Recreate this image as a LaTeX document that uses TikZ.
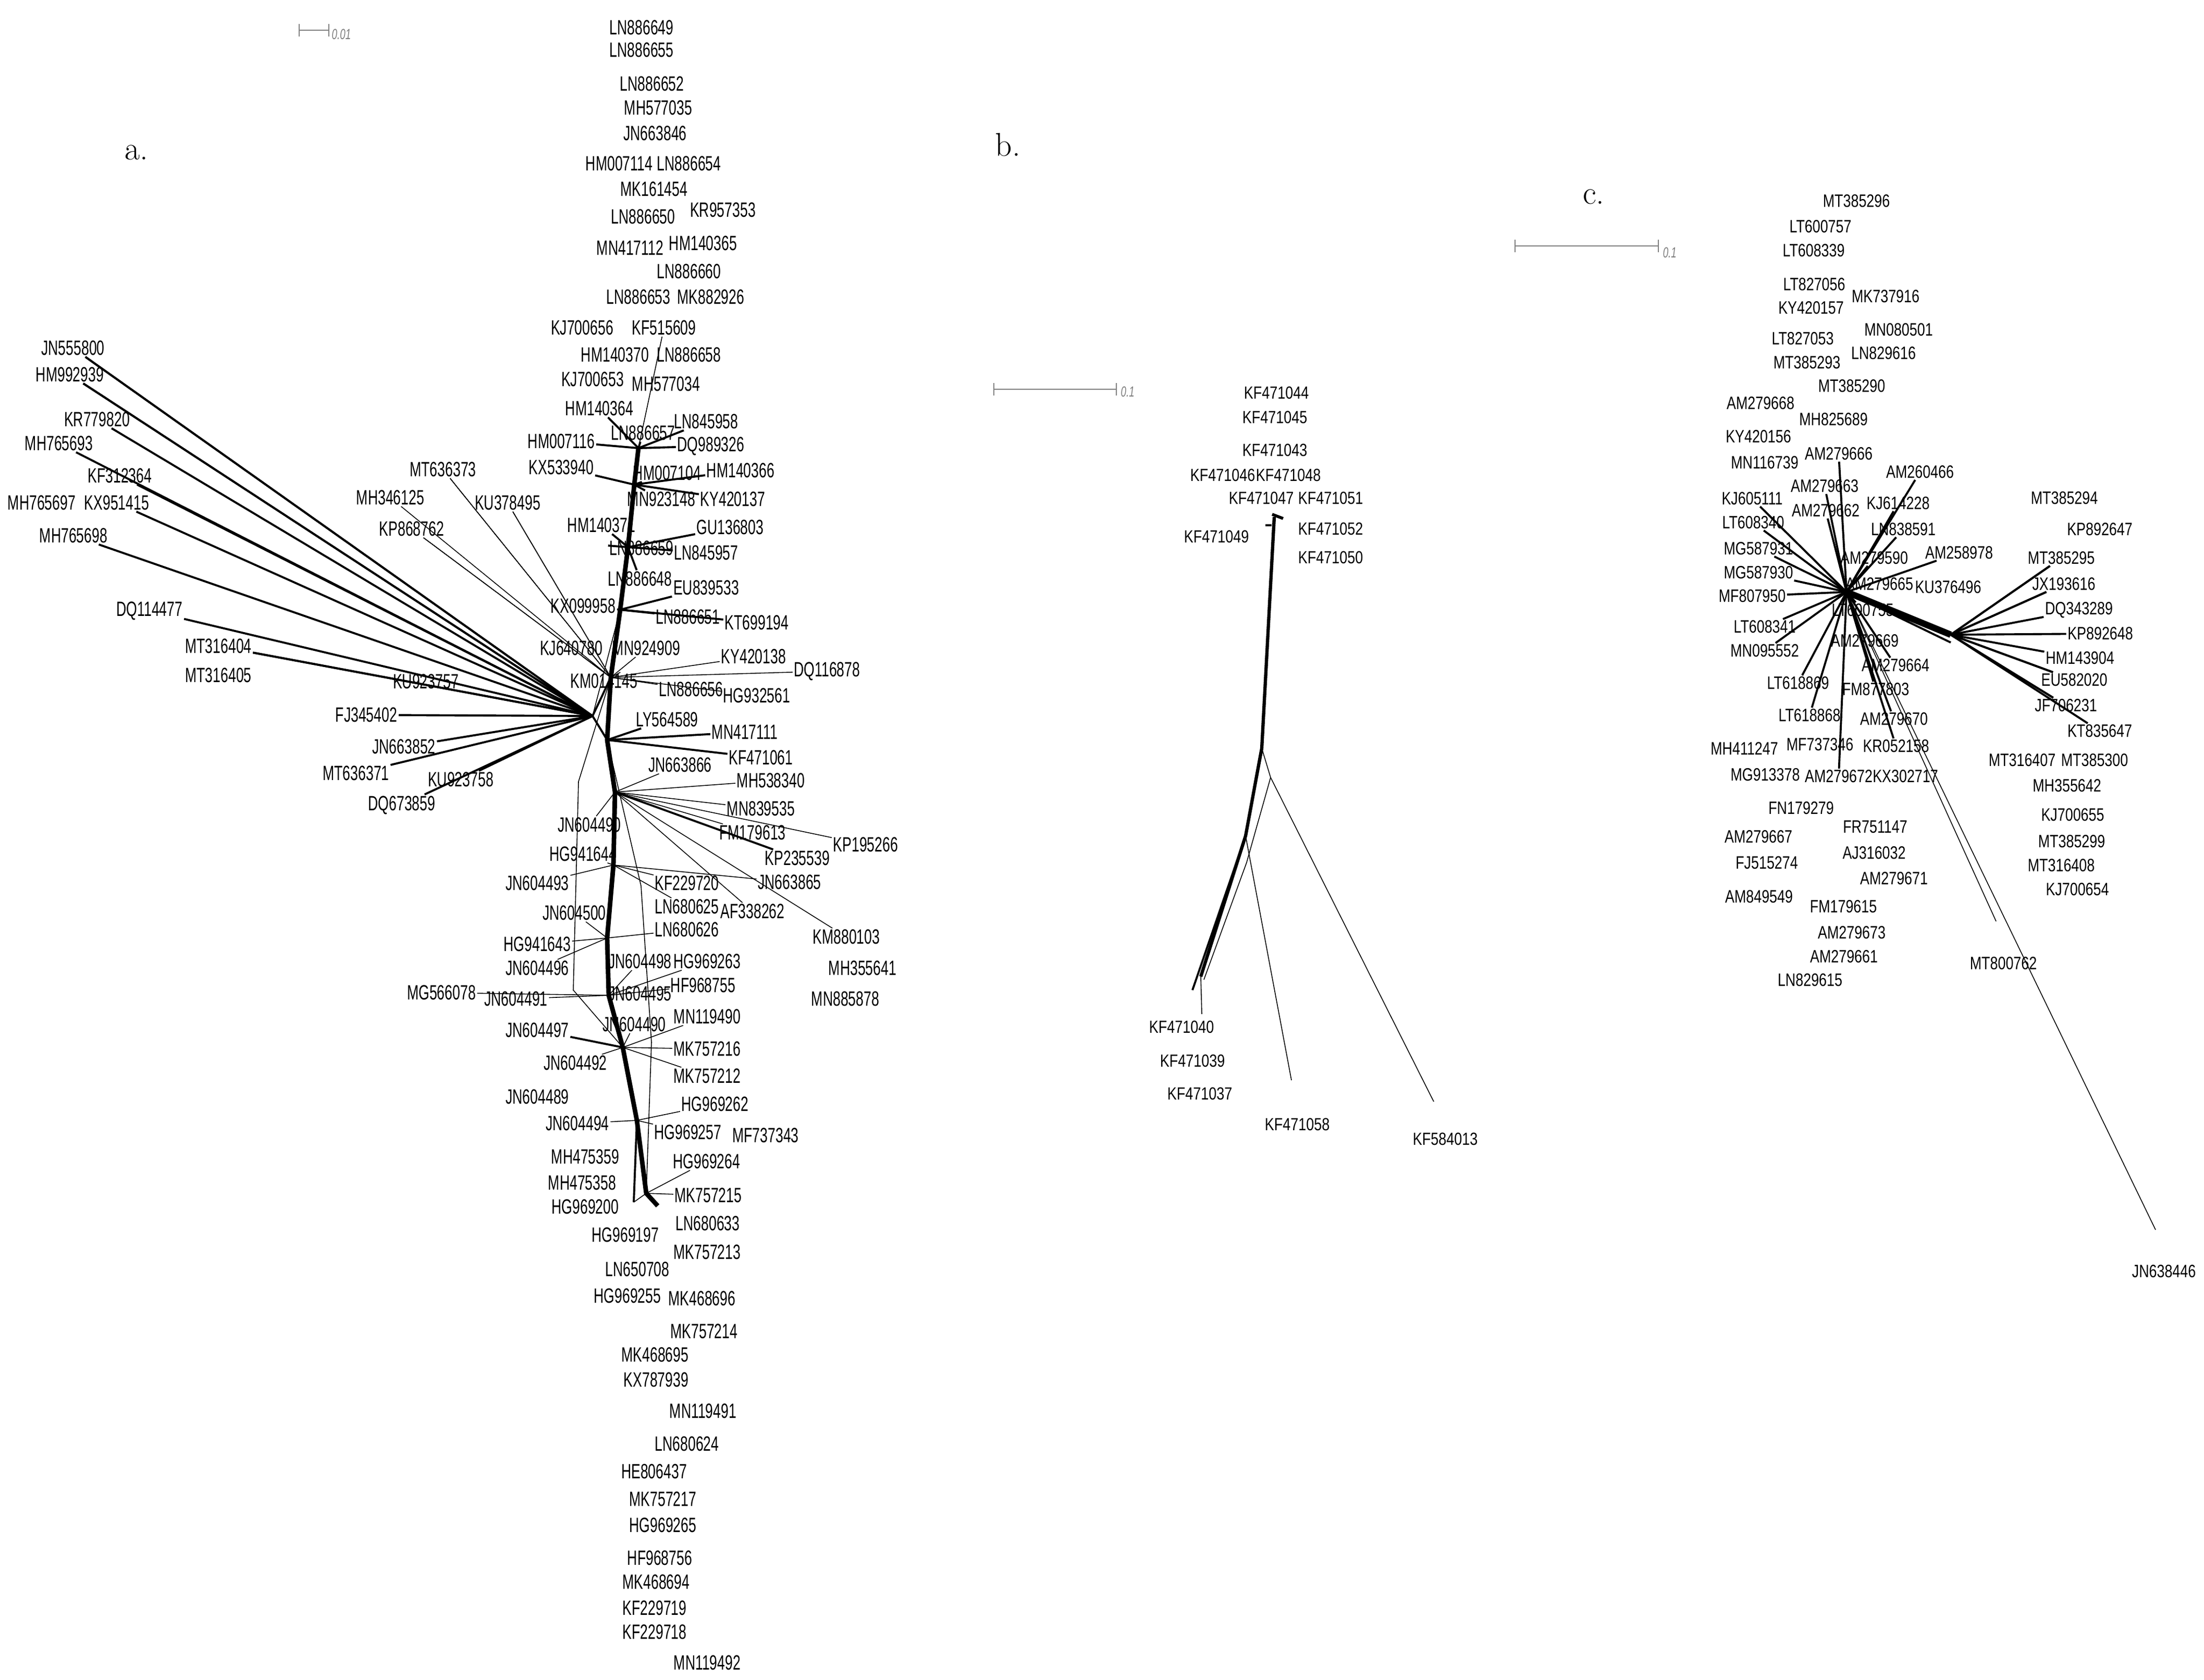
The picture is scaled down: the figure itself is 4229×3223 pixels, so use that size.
\documentclass[tikz,border=0pt]{standalone}
\usepackage{fontspec}
\newfontfamily\fa[FakeStretch=0.67]{Liberation Sans}
\newfontfamily\fb[FakeStretch=0.8]{Liberation Sans}
\newfontfamily\fc[FakeStretch=0.78]{Liberation Sans}
\tikzset{
 la/.style={font=\fa\fontsize{11.3}{12}\selectfont,inner sep=0.6pt},
 lb/.style={font=\fb\fontsize{9.6}{10}\selectfont,inner sep=0.6pt},
 lc/.style={font=\fc\fontsize{9.8}{10}\selectfont,inner sep=0.6pt},
 ed/.style={line width=0.45pt},
 edt/.style={line width=1.1pt},
 sp/.style={line width=2.5pt,line join=round},
 sbar/.style={gray,line width=0.5pt},
 stxt/.style={gray,font=\fa\itshape\fontsize{8}{9}\selectfont,inner sep=0pt,anchor=west},
 plab/.style={font=\fontsize{18}{20}\selectfont,inner sep=0pt}
}
\newcommand\LA[3]{\node[la] (#1) at (#2,#3) {#1};}
\newcommand\LB[3]{\node[lb] (#1) at (#2,#3) {#1};}
\newcommand\LC[3]{\node[lc] (#1) at (#2,#3) {#1};}
\begin{document}
\begin{tikzpicture}[x=0.1mm,y=-0.1mm]
\useasboundingbox (0,0) rectangle (4229,3223);
\fill[white] (0,0) rectangle (4229,3223);
% panel letters
\node[plab] (pa) at (262,293) {a.};
\node[plab] (pb) at (1934,278) {b.};
\node[plab] (pc) at (3058,378) {c.};
% scale bars
\coordinate (sa1) at (574,58); \coordinate (sa2) at (631,58);
\draw[sbar] (sa1) -- (sa2); \draw[sbar] ([yshift=-1.2mm]sa1) -- ([yshift=1.2mm]sa1); \draw[sbar] ([yshift=-1.2mm]sa2) -- ([yshift=1.2mm]sa2);
\node[stxt] (sat) at (636,66) {0.01};
\coordinate (sb1) at (1907,747); \coordinate (sb2) at (2142,747);
\draw[sbar] (sb1) -- (sb2); \draw[sbar] ([yshift=-1.2mm]sb1) -- ([yshift=1.2mm]sb1); \draw[sbar] ([yshift=-1.2mm]sb2) -- ([yshift=1.2mm]sb2);
\node[stxt] (sbt) at (2150,752) {0.1};
\coordinate (sc1) at (2907,472); \coordinate (sc2) at (3182,472);
\draw[sbar] (sc1) -- (sc2); \draw[sbar] ([yshift=-1.2mm]sc1) -- ([yshift=1.2mm]sc1); \draw[sbar] ([yshift=-1.2mm]sc2) -- ([yshift=1.2mm]sc2);
\node[stxt] (sct) at (3190,485) {0.1};

% ================= panel a labels
\LA{LN886649}{1231}{53}\LA{LN886655}{1231}{96}\LA{LN886652}{1251}{161}
\LA{MH577035}{1263}{207}\LA{JN663846}{1257}{256}\LA{HM007114}{1188}{314}
\LA{LN886654}{1322}{314}\LA{MK161454}{1255}{363}\LA{LN886650}{1234}{416}
\LA{KR957353}{1387}{403}\LA{MN417112}{1209}{476}\LA{HM140365}{1349}{467}
\LA{LN886660}{1322}{521}\LA{LN886653}{1225}{570}\LA{MK882926}{1364}{570}
\LA{KJ700656}{1117}{629}\LA{KF515609}{1274}{629}\LA{HM140370}{1180}{681}
\LA{LN886658}{1322}{681}\LA{KJ700653}{1137}{728}\LA{MH577034}{1278}{737}
\LA{HM140364}{1150}{784}\LA{LN845958}{1355}{809}\LA{LN886657}{1234}{831}
\LA{HM007116}{1077}{847}\LA{DQ989326}{1364}{856}\LA{KX533940}{1077}{897}
\LA{HM007104}{1280}{908}\LA{HM140366}{1421}{903}\LA{MT636373}{850}{901}
\LA{MH346125}{749}{955}\LA{KU378495}{974}{965}\LA{MN923148}{1269}{958}
\LA{KY420137}{1406}{958}\LA{KP868762}{790}{1015}\LA{HM140371}{1154}{1008}
\LA{GU136803}{1401}{1012}\LA{LN886659}{1231}{1052}\LA{LN845957}{1355}{1061}
\LA{JN555800}{140}{668}\LA{HM992939}{134}{719}\LA{KR779820}{186}{805}
\LA{MH765693}{113}{851}\LA{KF312364}{230}{913}\LA{MH765697}{80}{965}
\LA{KX951415}{224}{965}\LA{MH765698}{141}{1028}\LA{LN886648}{1228}{1111}
\LA{EU839533}{1355}{1128}\LA{DQ114477}{287}{1172}\LA{LN886651}{1320}{1184}
\LA{KT699194}{1452}{1195}\LA{KX099958}{1119}{1163}\LA{MT316404}{419}{1240}
\LA{MT316405}{419}{1296}\LA{KJ640780}{1096}{1244}\LA{MN924909}{1240}{1244}
\LA{KY420138}{1446}{1260}\LA{DQ116878}{1587}{1288}\LA{KU923757}{817}{1308}
\LA{KM014145}{1159}{1307}\LA{LN886656}{1326}{1323}\LA{HG932561}{1452}{1335}
\LA{FJ345402}{703}{1372}\LA{LY564589}{1280}{1381}\LA{MN417111}{1429}{1405}
\LA{JN663852}{775}{1433}\LA{KF471061}{1460}{1454}\LA{JN663866}{1305}{1468}
\LA{MT636371}{683}{1484}\LA{KU923758}{884}{1496}\LA{MH538340}{1479}{1498}
\LA{DQ673859}{771}{1545}\LA{MN839535}{1460}{1552}\LA{JN604490}{1131}{1583}
\LA{FM179613}{1444}{1598}\LA{KP195266}{1661}{1621}\LA{HG941644}{1119}{1639}
\LA{KP235539}{1530}{1647}\LA{JN604493}{1031}{1695}\LA{KF229720}{1318}{1695}
\LA{JN663865}{1515}{1693}\LA{JN604500}{1102}{1752}\LA{LN680625}{1318}{1740}
\LA{AF338262}{1444}{1749}\LA{LN680626}{1318}{1784}\LA{KM880103}{1624}{1798}
\LA{HG941643}{1031}{1812}\LA{JN604498}{1228}{1845}\LA{HG969263}{1357}{1845}
\LA{JN604496}{1031}{1858}\LA{MH355641}{1655}{1858}\LA{HF968755}{1349}{1891}
\LA{MG566078}{847}{1905}\LA{JN604495}{1228}{1907}\LA{JN604491}{990}{1917}
\LA{MN885878}{1622}{1917}\LA{MN119490}{1357}{1951}
\node[la] (JN604490b) at (1217,1966) {JN604490};
\LA{JN604497}{1031}{1977}\LA{MK757216}{1357}{2013}\LA{JN604492}{1104}{2040}
\LA{MK757212}{1357}{2065}\LA{JN604489}{1031}{2105}\LA{HG969262}{1372}{2119}
\LA{JN604494}{1108}{2156}\LA{HG969257}{1320}{2173}\LA{MF737343}{1469}{2179}
\LA{MH475359}{1123}{2220}\LA{HG969264}{1356}{2229}\LA{MH475358}{1117}{2270}
\LA{MK757215}{1359}{2294}\LA{HG969200}{1123}{2316}\LA{LN680633}{1358}{2348}
\LA{HG969197}{1200}{2370}\LA{MK757213}{1357}{2403}\LA{LN650708}{1223}{2436}
\LA{HG969255}{1204}{2487}\LA{MK468696}{1347}{2492}\LA{MK757214}{1351}{2555}
\LA{MK468695}{1257}{2600}\LA{KX787939}{1259}{2648}\LA{MN119491}{1349}{2708}
\LA{LN680624}{1318}{2771}\LA{HE806437}{1255}{2824}\LA{MK757217}{1272}{2877}
\LA{HG969265}{1272}{2927}\LA{HF968756}{1266}{2990}\LA{MK468694}{1259}{3036}
\LA{KF229719}{1256}{3086}\LA{KF229718}{1256}{3132}\LA{MN119492}{1357}{3191}

% panel a hubs
\coordinate (h1) at (1225,860); \coordinate (h2) at (1217,930);
\coordinate (h3) at (1205,1050); \coordinate (h4) at (1190,1170);
\coordinate (h5) at (1172,1300); \coordinate (hL) at (1137,1374);
\coordinate (h6) at (1165,1420); \coordinate (h7) at (1180,1520);
\coordinate (h8) at (1177,1660); \coordinate (h9) at (1165,1800);
\coordinate (h10) at (1168,1910); \coordinate (h11) at (1195,2010);
\coordinate (h12) at (1222,2150); \coordinate (h13) at (1240,2290);
\coordinate (h14) at (1262,2314); \coordinate (h15) at (1216,2307);
% spine bundle
\draw[sp] (h1) -- (h2) -- (h3) -- (h4) -- (h5) -- (h6) -- (h7) -- (h8) -- (h9) -- (h10) -- (h11) -- (h12) -- (h13) -- (h14);
\draw[ed,xshift=2mm] (h1) -- (h2) -- (h3) -- (h4) -- (h5) -- (h6) -- (h7) -- (h8) -- (h9) -- (h10) -- (h11) -- (h12) -- (h13);
\draw[ed,xshift=-2mm] (h2) -- (h3) -- (h4) -- (h5) -- (h6) -- (h7) -- (h8) -- (h9) -- (h10) -- (h11) -- (h12) -- (h13) -- (h15);
\draw[edt] (h11) -- (h12) -- (h15);
\draw[ed] (h6) -- (1230,1700) -- (1250,2000) -- (h13);
\draw[ed] (h5) -- (1110,1500) -- (1100,1900) -- (h11);
\draw[edt] (hL) -- (h5); \draw[edt] (hL) -- (h6); \draw[ed] (hL) -- (h4);
% panel a edges
\foreach \n in {LN886657,LN845958,HM140364,DQ989326,HM007116} \draw[edt] (h1) -- (\n);
\draw[ed] (h1) -- (KF515609);
\foreach \n in {HM007104,HM140366,KX533940,MN923148,KY420137} \draw[edt] (h2) -- (\n);
\foreach \n in {GU136803,LN886659,LN845957,HM140371,LN886648} \draw[edt] (h3) -- (\n);
\foreach \n in {EU839533,LN886651,KT699194,KX099958} \draw[edt] (h4) -- (\n);
\foreach \n in {KJ640780,MN924909,KY420138,DQ116878,KM014145,LN886656,HG932561,MT636373,MH346125,KP868762,KU378495} \draw[ed] (h5) -- (\n);
\foreach \n in {MT636373,KP868762,KU378495} \draw[ed,xshift=1.5mm] (h5) -- (\n);
\foreach \n in {JN555800,HM992939,KR779820,MH765693,KF312364,KX951415,MH765698,DQ114477,MT316404,FJ345402,JN663852,MT636371,KU923758,DQ673859} \draw[edt] (hL) -- (\n);
\foreach \n in {JN555800,HM992939,MT316404,KF312364} \draw[edt,yshift=1.2mm] (hL) -- (\n);
\foreach \n in {LY564589,MN417111,KF471061} \draw[edt] (h6) -- (\n);
\foreach \n in {JN663866,MH538340,MN839535,FM179613,KP195266,JN604490,KM880103,AF338262} \draw[ed] (h7) -- (\n);
\draw[edt] (h7) -- (KP235539);
\foreach \n in {JN663865,HG941644,JN604493,KF229720,LN680625} \draw[ed] (h8) -- (\n);
\foreach \n in {LN680626,HG941643,JN604500,JN604496} \draw[ed] (h9) -- (\n);
\foreach \n in {JN604498,HG969263,MG566078,JN604491,HF968755,JN604495} \draw[ed] (h10) -- (\n);
\foreach \n in {MN119490,JN604490b,JN604497,MK757216,JN604492,MK757212} \draw[ed] (h11) -- (\n);
\draw[edt] (h11) -- (JN604497);
\foreach \n in {HG969262,JN604494,HG969257} \draw[ed] (h12) -- (\n);
\foreach \n in {HG969264,MK757215} \draw[ed] (h13) -- (\n);

% ================= panel b
\LB{KF471044}{2449}{754}\LB{KF471045}{2446}{801}\LB{KF471043}{2446}{864}
\LB{KF471046}{2346}{912}\LB{KF471048}{2472}{912}\LB{KF471047}{2420}{956}
\LB{KF471051}{2553}{956}\LB{KF471052}{2553}{1015}\LB{KF471050}{2553}{1070}
\LB{KF471049}{2334}{1030}\LB{KF471040}{2267}{1971}\LB{KF471039}{2288}{2036}
\LB{KF471037}{2302}{2099}\LB{KF471058}{2489}{2158}\LB{KF584013}{2773}{2186}
\coordinate (bT) at (2445,992); \coordinate (bM) at (2421,1436);
\coordinate (bJ) at (2390,1604); \coordinate (bL1) at (2304,1874);
\coordinate (bL2) at (2288,1900); \coordinate (bL3) at (2306,1946);
\coordinate (bR) at (2438,1492); \coordinate (bK) at (2751,2114);
\coordinate (bG) at (2478,2073); \coordinate (bX) at (2392,1655);
\coordinate (bY) at (2310,1880);
\draw[line width=1.8pt] (bT) -- (bM) -- (bJ) -- (bL1);
\draw[edt] (bJ) -- (bL2); \draw[ed] (bL1) -- (bL3);
\draw[ed] (bM) -- (bR) -- (bK);
\draw[ed] (bR) -- (bX) -- (bY);
\draw[ed] (bJ) -- (bG);
\draw[edt] (2428,1008) -- (2440,1008);
\draw[line width=1.6pt] (2441,987) -- (2462,995);

% ================= panel c
\LC{MT385296}{3562}{386}\LC{LT600757}{3493}{435}\LC{LT608339}{3480}{481}
\LC{LT827056}{3481}{546}\LC{KY420157}{3475}{591}\LC{MK737916}{3618}{569}
\LC{MN080501}{3643}{633}\LC{LT827053}{3459}{650}\LC{LN829616}{3614}{678}
\LC{MT385293}{3467}{696}\LC{MT385290}{3553}{741}\LC{AM279668}{3378}{774}
\LC{MH825689}{3518}{805}\LC{KY420156}{3374}{838}\LC{AM279666}{3528}{871}
\LC{MN116739}{3386}{888}\LC{AM260466}{3684}{906}\LC{AM279663}{3501}{933}
\LC{KJ605111}{3362}{957}\LC{KJ614228}{3642}{966}\LC{MT385294}{3961}{956}
\LC{AM279662}{3503}{980}\LC{LT608340}{3364}{1003}\LC{LN838591}{3652}{1016}
\LC{KP892647}{4029}{1016}\LC{MG587931}{3374}{1053}\LC{AM258978}{3759}{1061}
\LC{MT385295}{3955}{1071}\LC{AM279590}{3596}{1071}\LC{MG587930}{3374}{1099}
\LC{AM279665}{3606}{1121}\LC{KU376496}{3738}{1127}\LC{JX193616}{3960}{1121}
\LC{MF807950}{3362}{1144}\LC{LT600755}{3574}{1171}\LC{DQ343289}{3989}{1171}
\LC{LT608341}{3386}{1203}\LC{KP892648}{4030}{1216}\LC{MN095552}{3386}{1249}
\LC{AM279669}{3578}{1230}\LC{HM143904}{3991}{1263}\LC{AM279664}{3637}{1277}
\LC{EU582020}{3980}{1305}\LC{LT618869}{3450}{1311}\LC{FM877803}{3599}{1323}
\LC{JF706231}{3964}{1354}\LC{LT618868}{3472}{1373}\LC{AM279670}{3634}{1380}
\LC{KT835647}{4029}{1403}\LC{MH411247}{3347}{1436}\LC{MF737346}{3492}{1429}
\LC{KR052158}{3638}{1432}\LC{MT316407}{3880}{1459}\LC{MT385300}{4019}{1459}
\LC{MG913378}{3387}{1487}\LC{AM279672}{3528}{1490}\LC{KX302717}{3656}{1490}
\LC{MH355642}{3966}{1508}\LC{FN179279}{3456}{1551}\LC{FR751147}{3598}{1587}
\LC{AM279667}{3374}{1606}\LC{KJ700655}{3977}{1564}\LC{MT385299}{3975}{1615}
\LC{AJ316032}{3596}{1637}\LC{FJ515274}{3390}{1656}\LC{MT316408}{3955}{1661}
\LC{AM279671}{3634}{1686}\LC{KJ700654}{3986}{1707}\LC{AM849549}{3375}{1721}
\LC{FM179615}{3537}{1740}\LC{AM279673}{3553}{1790}\LC{AM279661}{3538}{1836}
\LC{MT800762}{3844}{1849}\LC{LN829615}{3473}{1881}\LC{JN638446}{4152}{2440}
\coordinate (cC) at (3543,1136); \coordinate (cR) at (3743,1218);
\coordinate (cM) at (3830,1768); \coordinate (cJ) at (4136,2360);
\draw[line width=3.5pt] (cC) -- (cR);
\draw[edt] (cC) -- ([yshift=-1.5mm]cR);
\foreach \n in {AM279666,AM260466,AM279663,KJ614228,AM279662,LT608340,LN838591,MG587931,MG587930,MF807950,AM279590,AM279665,LT600755,LT608341,MN095552,AM279669,AM279664,LT618869,FM877803,LT618868,AM279670,KR052158,AM279672,AM258978,KJ605111} \draw[edt] (cC) -- (\n);
\foreach \n in {MG587931,MF807950,LT608341,AM279664,AM279670} \draw[ed,xshift=1.5mm] (cC) -- (\n);
\foreach \n in {MT385295,JX193616,DQ343289,KP892648,HM143904,EU582020,JF706231,KT835647} \draw[edt] (cR) -- (\n);
\foreach \n in {MT385295,JX193616,EU582020,JF706231} \draw[edt,yshift=1.5mm] (cR) -- (\n);
\draw[ed] (cC) -- (cM);
\draw[ed] (cC) -- (cJ);
\end{tikzpicture}
\end{document}
